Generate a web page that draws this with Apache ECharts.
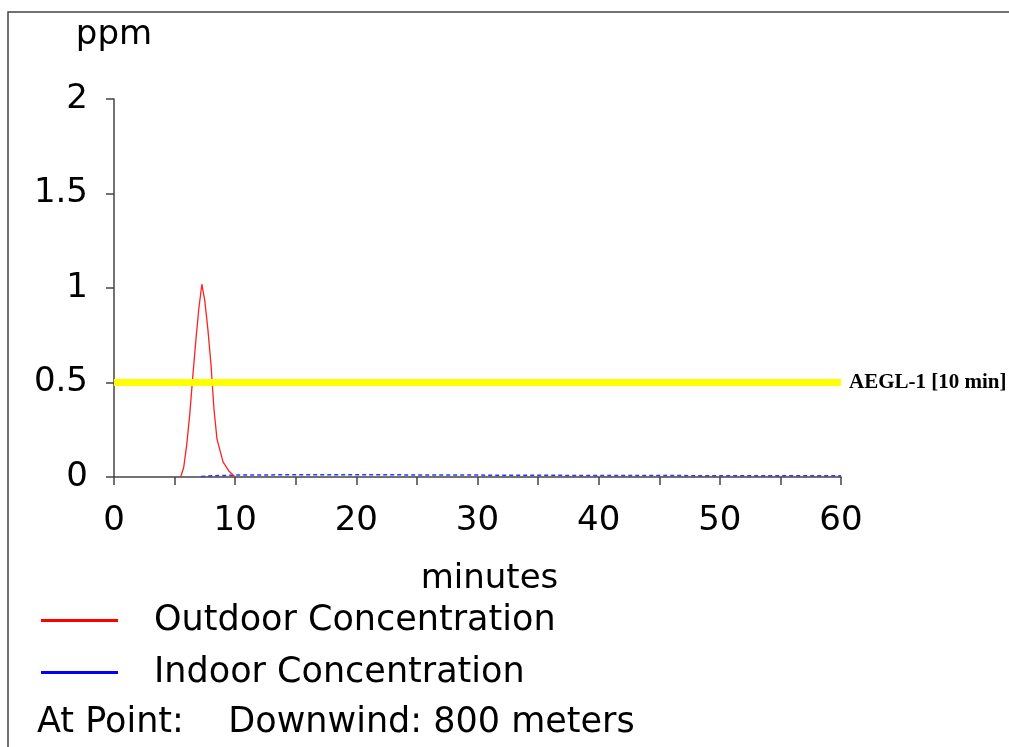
<!DOCTYPE html>
<html>
<head>
<meta charset="utf-8">
<script src="https://cdn.jsdelivr.net/npm/echarts@6/dist/echarts.min.js"></script>
<style>
  html, body { margin: 0; padding: 0; background: #fff; }
  #chart { width: 1009px; height: 747px; }
</style>
</head>
<body>
<div id="chart"></div>
<script>
// Time in minutes, concentration in ppm
const outdoorTimes = [5.5, 5.75, 6.0, 6.25, 6.5, 6.75, 7.0, 7.25, 7.5, 7.75, 8.0, 8.25, 8.5, 9.0, 9.5, 10.0];
const outdoorPpm   = [0.0, 0.05, 0.17, 0.33, 0.53, 0.72, 0.89, 1.02, 0.93, 0.78, 0.6, 0.36, 0.2, 0.08, 0.03, 0.0];
const indoorTimes  = [7.2, 8, 9, 10, 15, 20, 30, 40, 50, 60];
const indoorPpm    = [0.003, 0.006, 0.008, 0.01, 0.012, 0.012, 0.01, 0.008, 0.007, 0.006];
const aeglLevel = 0.5;
const aeglLabel = 'AEGL-1 [10 min]';
const yTicks = [0, 0.5, 1, 1.5, 2];
const xLabelStep = 10;
const locationText = 'At Point:    Downwind: 800 meters';

const pair = (xs, ys) => xs.map((x, i) => [x, ys[i]]);

const sans = 'DejaVu Sans';
const axisFont = 34;
const legendFont = 35;
const chart = echarts.init(document.getElementById('chart'), null, { renderer: 'canvas' });
chart.setOption({
  animation: false,
  backgroundColor: '#fff',
  grid: { left: 114, right: 168, top: 99, bottom: 270, containLabel: false },
  xAxis: {
    type: 'value', min: 0, max: 60, interval: 5,
    name: 'minutes', nameLocation: 'middle', nameGap: 85,
    nameTextStyle: { fontFamily: sans, fontSize: axisFont, color: '#000', padding: [0, 0, 0, 24] },
    axisLine: { onZero: false, lineStyle: { color: '#444', width: 1.5 } },
    axisTick: { show: true, length: 8, lineStyle: { color: '#444', width: 1.5 } },
    axisLabel: {
      fontFamily: sans, fontSize: axisFont, color: '#000', margin: 27,
      formatter: v => (v % xLabelStep === 0 ? String(v) : '')
    },
    splitLine: { show: false }
  },
  yAxis: {
    type: 'value', min: yTicks[0], max: yTicks[yTicks.length - 1], interval: 0.5,
    name: 'ppm', nameLocation: 'end', nameGap: 47,
    nameTextStyle: { fontFamily: sans, fontSize: axisFont, color: '#000', align: 'center' },
    axisLine: { show: true, lineStyle: { color: '#444', width: 1.5 } },
    axisTick: { show: true, length: 8, lineStyle: { color: '#444', width: 1.5 } },
    axisLabel: { fontFamily: sans, fontSize: axisFont, color: '#000', margin: 26 },
    splitLine: { show: false }
  },
  legend: {
    orient: 'vertical', left: 36, top: 598, itemGap: 17,
    icon: 'rect', itemWidth: 77, itemHeight: 3,
    textStyle: { fontFamily: sans, fontSize: legendFont, color: '#000', padding: [0, 0, 0, 31] },
    data: ['Outdoor Concentration', 'Indoor Concentration']
  },
  graphic: [
    { type: 'rect', shape: { x: 8, y: 12, width: 1100, height: 800 },
      style: { fill: 'none', stroke: '#444', lineWidth: 1.5 }, silent: true },
    { type: 'text', left: 37, top: 705,
      style: { text: locationText, fontFamily: sans, fontSize: legendFont, fill: '#000' } }
  ],
  series: [
    {
      name: 'Outdoor Concentration', type: 'line', data: pair(outdoorTimes, outdoorPpm),
      showSymbol: false, color: '#ff0000',
      lineStyle: { color: '#ff2020', width: 1.3 },
      markLine: {
        silent: true, symbol: 'none',
        lineStyle: { color: '#ffff00', width: 7, type: 'solid' },
        label: {
          show: true, position: 'end', formatter: aeglLabel, distance: 8,
          fontFamily: 'Liberation Serif', fontWeight: 'bold', fontSize: 21, color: '#000'
        },
        data: [{ yAxis: aeglLevel }]
      },
      z: 3
    },
    {
      name: 'Indoor Concentration', type: 'line', data: pair(indoorTimes, indoorPpm),
      showSymbol: false, color: '#0000ff',
      lineStyle: { color: '#3333ff', width: 1.5, type: [4, 3] },
      z: 2
    }
  ]
});
</script>
</body>
</html>
